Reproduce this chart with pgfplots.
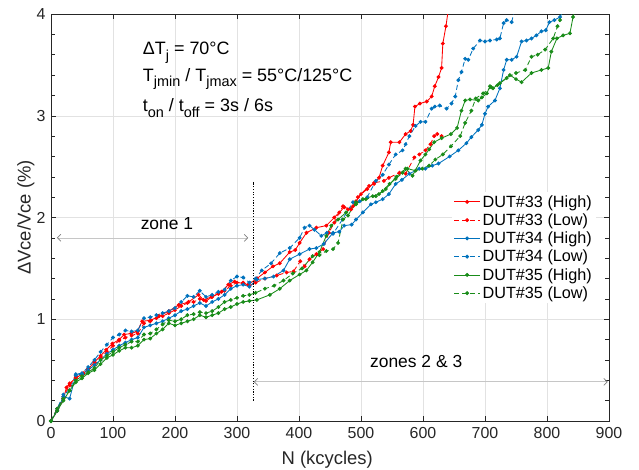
\documentclass[border=0pt]{standalone}
\usepackage{fontspec}
\setmainfont{Liberation Sans}
\usepackage{pgfplots}
\pgfplotsset{compat=1.18}
\usetikzlibrary{arrows.meta}
\definecolor{mred}{RGB}{255,0,0}
\definecolor{mblue}{RGB}{0,114,189}
\definecolor{mgreen}{RGB}{25,140,25}
\definecolor{axgray}{RGB}{38,38,38}
\definecolor{gridgray}{RGB}{226,226,226}
\newcommand\sub[1]{\raisebox{-0.32em}{\fontsize{14.5}{14.5}\selectfont #1}}

\pgfplotstableread{
N V
0 0
10 0.1
20 0.22
25 0.33
30 0.37
40 0.42
52 0.47
60 0.51
70 0.58
80 0.64
89 0.70
99 0.76
110 0.80
118 0.85
129 0.86
139 0.88
147 0.98
161 0.99
174 1.03
190 1.08
206 1.14
222 1.17
238 1.24
246 1.19
259 1.22
275 1.27
286 1.34
296 1.37
310 1.35
318 1.34
332 1.40
345 1.46
358 1.52
369 1.55
385 1.66
394 1.68
401 1.75
412 1.85
428 1.90
444 1.92
457 2.00
473 2.10
484 2.08
492 2.16
500 2.23
513 2.31
521 2.33
529 2.39
535 2.51
545 2.64
548 2.74
562 2.74
572 2.82
580 2.85
584 2.91
587 3.09
595 3.12
606 3.14
614 3.19
619 3.29
625 3.38
630 3.47
632 3.71
637 3.88
641 4.05
}\redH

\pgfplotstableread{
N V
0 0
10 0.12
20 0.24
30 0.35
40 0.43
50 0.45
60 0.50
70 0.55
80 0.62
90 0.68
100 0.74
110 0.79
120 0.82
130 0.84
140 0.86
150 0.96
160 0.98
170 1.01
180 1.03
190 1.06
200 1.09
210 1.13
220 1.16
230 1.17
240 1.20
250 1.18
260 1.22
270 1.25
280 1.28
290 1.33
300 1.36
310 1.36
320 1.33
330 1.36
345 1.40
364 1.43
380 1.46
391 1.47
402 1.57
409 1.52
417 1.59
428 1.64
439 1.69
448 1.85
457 1.95
465 2.05
471 2.11
479 2.08
487 2.11
495 2.20
510 2.28
521 2.34
537 2.36
545 2.39
562 2.44
572 2.43
586 2.59
594 2.62
604 2.66
612 2.72
618 2.80
623 2.82
630 2.80
}\redL

\pgfplotstableread{
N V
0 0
10 0.1
20 0.24
30 0.22
40 0.45
50 0.46
60 0.50
70 0.55
80 0.60
90 0.66
100 0.70
110 0.74
120 0.77
130 0.80
140 0.82
150 0.92
160 0.94
170 0.96
180 0.98
190 1.01
200 1.04
210 1.08
220 1.10
230 1.13
240 1.16
250 1.13
260 1.17
270 1.20
280 1.24
290 1.30
300 1.33
310 1.34
320 1.32
332 1.39
345 1.40
359 1.42
375 1.48
385 1.59
401 1.64
417 1.69
428 1.70
440 1.74
455 1.85
465 1.86
473 1.92
485 1.93
492 1.98
503 2.05
516 2.13
524 2.15
535 2.18
545 2.23
556 2.33
566 2.37
578 2.43
594 2.48
604 2.48
615 2.51
625 2.53
643 2.60
657 2.66
670 2.73
678 2.79
689 2.86
695 2.91
700 3.02
705 3.09
716 3.15
724 3.27
730 3.45
735 3.55
743 3.55
751 3.58
759 3.73
767 3.74
775 3.76
783 3.79
791 3.83
798 3.84
804 3.92
812 3.94
821 3.97
828 4.05
}\blueH

\pgfplotstableread{
N V
0 0
10 0.12
20 0.26
30 0.30
40 0.46
50 0.47
60 0.53
70 0.60
80 0.68
90 0.75
100 0.82
110 0.85
120 0.89
130 0.88
140 0.89
150 1.01
160 1.02
170 1.04
180 1.06
190 1.08
200 1.11
210 1.17
220 1.23
230 1.22
240 1.28
250 1.22
260 1.24
270 1.27
280 1.29
290 1.38
300 1.42
310 1.41
320 1.36
330 1.40
340 1.48
355 1.55
369 1.65
385 1.70
401 1.80
409 1.90
417 1.92
425 1.88
436 1.82
445 1.85
455 1.84
470 1.98
487 2.15
498 2.16
510 2.20
524 2.36
535 2.42
545 2.52
556 2.62
567 2.66
572 2.72
578 2.80
588 2.90
596 2.94
604 2.94
614 3.07
619 3.09
627 3.10
638 3.07
646 3.12
652 3.19
657 3.35
662 3.43
668 3.56
673 3.55
681 3.66
692 3.74
700 3.73
708 3.74
719 3.75
724 3.76
730 3.91
735 3.94
743 3.92
748 4.05
}\blueL

\pgfplotstableread{
N V
0 0
10 0.10
20 0.20
30 0.30
40 0.38
50 0.42
60 0.47
70 0.50
80 0.56
90 0.62
100 0.65
110 0.69
120 0.72
130 0.72
140 0.74
150 0.80
160 0.81
170 0.86
180 0.90
190 0.96
200 0.94
210 0.96
220 0.98
230 1.00
240 1.04
250 1.02
260 1.04
270 1.06
280 1.10
290 1.12
300 1.15
310 1.17
320 1.18
332 1.19
353 1.24
369 1.30
385 1.38
401 1.44
412 1.48
422 1.56
433 1.66
444 1.82
452 1.92
463 1.98
476 2.05
492 2.13
503 2.18
519 2.21
529 2.23
540 2.28
557 2.40
572 2.48
583 2.41
596 2.56
604 2.62
610 2.67
618 2.74
630 2.78
645 2.82
655 2.88
662 3.05
668 3.15
676 3.16
689 3.15
695 3.18
703 3.22
708 3.29
713 3.27
724 3.32
740 3.40
750 3.36
759 3.33
775 3.42
791 3.45
802 3.47
807 3.63
816 3.76
826 3.79
837 3.81
842 3.97
846 4.05
}\greenH

\pgfplotstableread{
N V
0 0
10 0.12
20 0.22
30 0.30
40 0.40
50 0.44
60 0.48
70 0.52
80 0.60
90 0.64
100 0.68
110 0.72
120 0.75
130 0.78
140 0.78
150 0.85
160 0.86
170 0.90
180 0.95
190 0.99
200 0.98
210 1.00
220 1.04
230 1.05
240 1.07
250 1.06
260 1.08
270 1.12
280 1.17
290 1.19
300 1.21
310 1.23
320 1.24
330 1.26
345 1.30
360 1.33
375 1.38
390 1.45
405 1.50
422 1.62
433 1.63
444 1.67
455 1.69
463 1.75
471 1.98
479 2.02
492 2.15
508 2.18
524 2.21
535 2.26
546 2.33
556 2.38
567 2.44
575 2.48
588 2.46
599 2.48
610 2.51
620 2.57
632 2.62
645 2.70
660 2.80
668 2.93
678 3.05
685 3.17
697 3.22
710 3.28
720 3.30
735 3.37
750 3.42
765 3.45
775 3.58
785 3.60
797 3.65
810 3.76
817 3.88
821 3.94
825 4.05
}\greenL

\begin{document}
\begin{tikzpicture}
\path[use as bounding box] (-51bp,-49bp) rectangle (588bp,421bp);
\begin{axis}[
  at={(0,0)}, anchor=south west,
  scale only axis, width=558bp, height=407bp,
  xmin=0, xmax=900, ymin=0, ymax=4,
  xtick={0,100,...,900}, ytick={0,1,2,3,4},
  minor y tick num=4,
  grid=major, major grid style={gridgray, line width=0.5pt},
  tick align=inside,
  major tick length=5bp, minor tick length=3.5bp,
  axis line style={axgray, line width=0.6pt},
  every tick/.style={axgray, line width=0.5pt},
  tick label style={font=\fontsize{16}{19}\selectfont, text=axgray},
  /pgf/number format/assume math mode=true,
  xticklabel style={yshift=-3bp},
  yticklabel style={xshift=-2bp},
  xlabel={N (kcycles)}, ylabel={ΔVce/Vce (\%)},
  label style={font=\fontsize{18.5}{22}\selectfont, text=axgray},
  xlabel style={at={(axis description cs:0.495,-0.095)}, anchor=center},
  ylabel style={at={(axis description cs:-0.045,0.5)}, anchor=center},
  legend style={at={(axis cs:646,2.25)}, anchor=north west, draw=none, fill=white,
    font=\fontsize{16.3}{19}\selectfont, row sep=1bp, inner xsep=2bp, inner ysep=1bp,
    nodes={inner sep=2bp}},
  legend cell align=left,
  legend image code/.code={\draw[mark repeat=2,mark phase=2,#1] plot coordinates {(0bp,0bp) (13bp,0bp) (26bp,0bp)};},
  every axis plot/.append style={line width=0.85pt, mark=*, mark size=1.5pt, mark options={solid}},
]
\addplot[color=mred] table[x=N,y=V] {\redH};
\addlegendentry{DUT\#33 (High)}
\addplot[color=mred, dash pattern=on 5bp off 3bp] table[x=N,y=V] {\redL};
\addlegendentry{DUT\#33 (Low)}
\addplot[color=mblue] table[x=N,y=V] {\blueH};
\addlegendentry{DUT\#34 (High)}
\addplot[color=mblue, dash pattern=on 5bp off 3bp] table[x=N,y=V] {\blueL};
\addlegendentry{DUT\#34 (Low)}
\addplot[color=mgreen] table[x=N,y=V] {\greenH};
\addlegendentry{DUT\#35 (High)}
\addplot[color=mgreen, dash pattern=on 5bp off 3bp] table[x=N,y=V] {\greenL};
\addlegendentry{DUT\#35 (Low)}

\node[anchor=base west, font=\fontsize{18}{21}\selectfont, inner sep=0pt] at (axis cs:148,3.60) {ΔT\sub{j} = 70°C};
\node[anchor=base west, font=\fontsize{18}{21}\selectfont, inner sep=0pt] at (axis cs:148,3.34) {T\sub{jmin} / T\sub{jmax} = 55°C/125°C};
\node[anchor=base west, font=\fontsize{18}{21}\selectfont, inner sep=0pt] at (axis cs:148,3.04) {t\sub{on} / t\sub{off} = 3s / 6s};

\node[anchor=base, font=\fontsize{17.5}{21}\selectfont, inner sep=0pt] at (axis cs:187,1.88) {zone 1};
\node[anchor=base, font=\fontsize{17.5}{21}\selectfont, inner sep=0pt] at (axis cs:589,0.53) {zones 2 \& 3};

\draw[gray!45, line width=0.7pt, {Straight Barb[length=3.5bp,width=7bp,color=gray]}-{Straight Barb[length=3.5bp,width=7bp,color=gray]}] (axis cs:9.5,1.8) -- (axis cs:318,1.8);
\draw[gray!45, line width=0.7pt, {Straight Barb[length=3.5bp,width=7bp,color=gray]}-{Straight Barb[length=3.5bp,width=7bp,color=gray]}] (axis cs:327,0.385) -- (axis cs:898,0.385);
\draw[black, dash pattern=on 1.2bp off 1.5bp, line width=0.6pt] (axis cs:326,0.2) -- (axis cs:326,2.35);
\end{axis}
\end{tikzpicture}
\end{document}
